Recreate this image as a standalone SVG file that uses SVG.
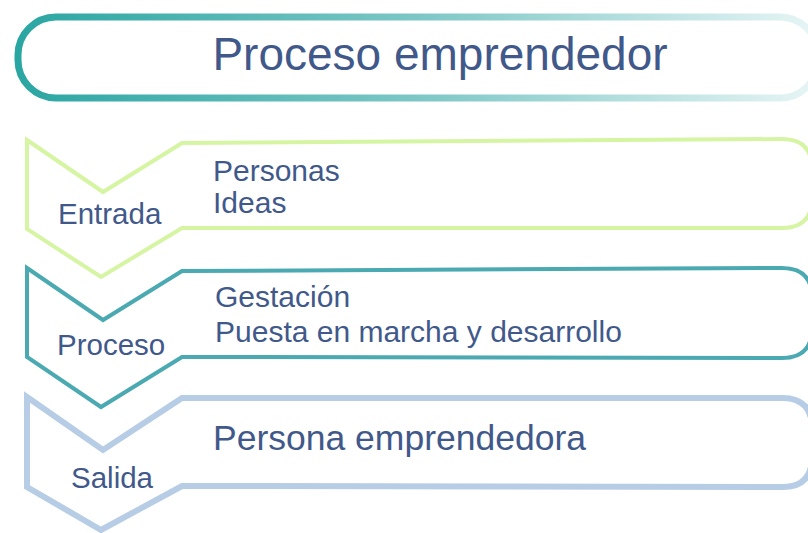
<svg xmlns="http://www.w3.org/2000/svg" width="808" height="533" viewBox="0 0 808 533">
  <style>
    .t { font-family: "Liberation Sans", Arial, sans-serif; fill: #41598a; }
    .shape { fill: #ffffff; stroke-linejoin: miter; }
    .lbl { font-size: 29.5px; }
    .item { font-size: 30px; }
  </style>
  <defs>
    <linearGradient id="g" x1="0" y1="0" x2="1" y2="0">
      <stop offset="0" stop-color="#2aa6a2"/>
      <stop offset="0.5" stop-color="#7cc7c6"/>
      <stop offset="1" stop-color="#e8f5f5"/>
    </linearGradient>
  </defs>
  <rect width="808" height="533" fill="#ffffff"/>

  <g id="title">
    <rect x="18" y="17" width="800" height="81" rx="38" ry="38" fill="#ffffff" stroke="url(#g)" stroke-width="7"/>
    <text class="t" x="440" y="70" font-size="46" text-anchor="middle">Proceso emprendedor</text>
  </g>

  <g id="entrada">
    <path class="shape" d="M27,140 L103,192 L182,143 L782,139 Q812,139 812,169 L812,198 Q812,228 782,228 L182,228 L101,277 L27,229 Z" stroke="#d5f5a3" stroke-width="4"/>
    <text class="t lbl" x="58" y="224">Entrada</text>
    <text class="t item" x="213" y="181">Personas</text>
    <text class="t item" x="213" y="213">Ideas</text>
  </g>

  <g id="proceso">
    <path class="shape" d="M27,268 L103,320 L182,271 L782,268 Q812,268 812,298 L812,328 Q812,358 782,358 L182,357 L101,407 L27,357 Z" stroke="#4aa9b1" stroke-width="4"/>
    <text class="t lbl" x="57" y="355">Proceso</text>
    <text class="t item" x="215" y="307">Gestación</text>
    <text class="t item" x="215" y="342">Puesta en marcha y desarrollo</text>
  </g>

  <g id="salida">
    <path class="shape" d="M27,397 L103,450 L182,398 L782,398 Q812,398 812,428 L812,457 Q812,487 782,487 L182,486 L101,530 L27,487 Z" stroke="#b7cde6" stroke-width="6"/>
    <text class="t lbl" x="71" y="488">Salida</text>
    <text class="t" x="213" y="450" font-size="35.5">Persona emprendedora</text>
  </g>

  <g id="connectors"></g>
</svg>
